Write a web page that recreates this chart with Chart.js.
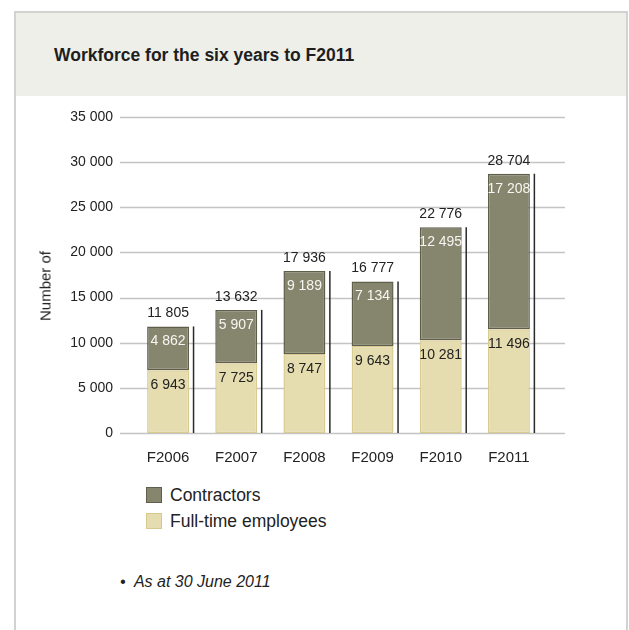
<!DOCTYPE html>
<html>
<head>
<meta charset="utf-8">
<script src="https://cdn.jsdelivr.net/npm/chart.js@4.4.1/dist/chart.umd.min.js"></script>
<style>
  html, body { margin: 0; padding: 0; background: #fff; }
  body { width: 629px; height: 630px; position: relative; overflow: hidden;
         font-family: "Liberation Sans", Arial, sans-serif; color: #222; }
  .carte { position: absolute; left: 14px; top: 11px; width: 610px; height: 640px;
           border: 2px solid #d2d2d2; border-bottom: none; }
  .entete { position: absolute; left: 0; top: 0; right: 0; height: 83px; background: #edefe8; }
  .entete h2 { margin: 0; position: absolute; left: 38px; top: 32px;
               font-size: 17.5px; font-weight: bold; color: #1e1e1e; }
  #zone { position: absolute; left: 0; top: 0; width: 629px; height: 480px; }
  .axe-y { position: absolute; left: 45px; top: 286px; transform: translate(-50%, -50%) rotate(-90deg);
           font-size: 15px; color: #222; white-space: nowrap; }
  .legende { position: absolute; left: 146px; top: 482px; font-size: 17.5px; color: #222; }
  .legende div { height: 26px; display: flex; align-items: center; }
  .legende span.carre { width: 14px; height: 14px; margin-right: 8px; display: inline-block; }
  .note { position: absolute; left: 120px; top: 573px; font-size: 16px; font-style: italic; color: #222; }
</style>
</head>
<body>
<div class="carte"><div class="entete"><h2>Workforce for the six years to F2011</h2></div></div>
<canvas id="zone" width="629" height="480"></canvas>
<div class="axe-y">Number of</div>
<div class="legende">
  <div><span class="carre" style="background:#86856e;border:1px solid #5f5e4b"></span>Contractors</div>
  <div><span class="carre" style="background:#e5dcb0;border:1px solid #d6c98e"></span>Full-time employees</div>
</div>
<div class="note">&bull;&nbsp; As at 30 June 2011</div>

<script>
// Données
const annees = ["F2006", "F2007", "F2008", "F2009", "F2010", "F2011"];
const employes = [6943, 7725, 8747, 9643, 10281, 11496];
const sousTraitants = [4862, 5907, 9189, 7134, 12495, 17208];
const totaux = [11805, 13632, 17936, 16777, 22776, 28704];
const graduations = [0, 5000, 10000, 15000, 20000, 25000, 30000, 35000];

function formater(n) {
  return String(n).replace(/\B(?=(\d{3})+(?!\d))/g, " ");
}

// lignes horizontales plus larges que la zone des barres
const grille = {
  id: "grille",
  beforeDatasetsDraw(chart) {
    const { ctx, chartArea, scales } = chart;
    ctx.save();
    ctx.strokeStyle = "#c4c4c4";
    ctx.lineWidth = 1.5;
    graduations.forEach(v => {
      const y = Math.round(scales.y.getPixelForValue(v)) + 0.5;
      ctx.beginPath();
      ctx.moveTo(chartArea.left - 14, y);
      ctx.lineTo(chartArea.right + 22, y);
      ctx.stroke();
    });
    ctx.restore();
  }
};

// étiquettes des valeurs + trait noir à droite de chaque barre
const etiquettes = {
  id: "etiquettes",
  afterDatasetsDraw(chart) {
    const { ctx, scales } = chart;
    const barresEmp = chart.getDatasetMeta(0).data;
    const barresSt = chart.getDatasetMeta(1).data;
    const base = scales.y.getPixelForValue(0);
    ctx.save();
    ctx.font = "14px 'Liberation Sans', Arial, sans-serif";
    ctx.textAlign = "center";
    ctx.textBaseline = "middle";
    barresEmp.forEach((b, i) => {
      const haut = barresSt[i].y;
      // trait
      ctx.strokeStyle = "#2a2a2a";
      ctx.lineWidth = 1.5;
      ctx.beginPath();
      ctx.moveTo(b.x + b.width / 2 + 4.5, haut);
      ctx.lineTo(b.x + b.width / 2 + 4.5, base);
      ctx.stroke();

      ctx.fillStyle = "#222";
      ctx.fillText(formater(employes[i]), b.x, b.y + 15);
      ctx.fillStyle = "#f6f6f2";
      ctx.fillText(formater(sousTraitants[i]), b.x, haut + 15);
      ctx.fillStyle = "#222";
      ctx.fillText(formater(totaux[i]), b.x, haut - 13);
    });
    ctx.restore();
  }
};

new Chart(document.getElementById("zone").getContext("2d"), {
  type: "bar",
  data: {
    labels: annees,
    datasets: [
      {
        label: "Full-time employees",
        data: employes,
        backgroundColor: "#e5dcb0",
        borderColor: "#d8cb90",
        borderWidth: 1.5,
        borderSkipped: false
      },
      {
        label: "Contractors",
        data: sousTraitants,
        backgroundColor: "#86856e",
        borderColor: "#5f5e4b",
        borderWidth: 1.5,
        borderSkipped: false
      }
    ]
  },
  options: {
    responsive: false,
    animation: false,
    layout: { padding: { top: 117, right: 86, left: 0, bottom: 0 } },
    datasets: { bar: { barPercentage: 0.615, categoryPercentage: 1 } },
    plugins: { legend: { display: false }, tooltip: { enabled: false } },
    scales: {
      x: {
        stacked: true,
        grid: { display: false, drawTicks: false },
        border: { display: false },
        ticks: { color: "#222", font: { size: 15, family: "'Liberation Sans', Arial" }, padding: 16 },
        afterFit: s => { s.height = 47; }
      },
      y: {
        stacked: true,
        min: 0,
        max: 35000,
        grid: { display: false, drawTicks: false },
        border: { display: false },
        ticks: {
          stepSize: 5000,
          color: "#222",
          padding: 21,
          font: { size: 14, family: "'Liberation Sans', Arial" },
          callback: v => formater(v)
        },
        afterFit: s => { s.width = 134; }
      }
    }
  },
  plugins: [grille, etiquettes]
});
</script>
</body>
</html>
